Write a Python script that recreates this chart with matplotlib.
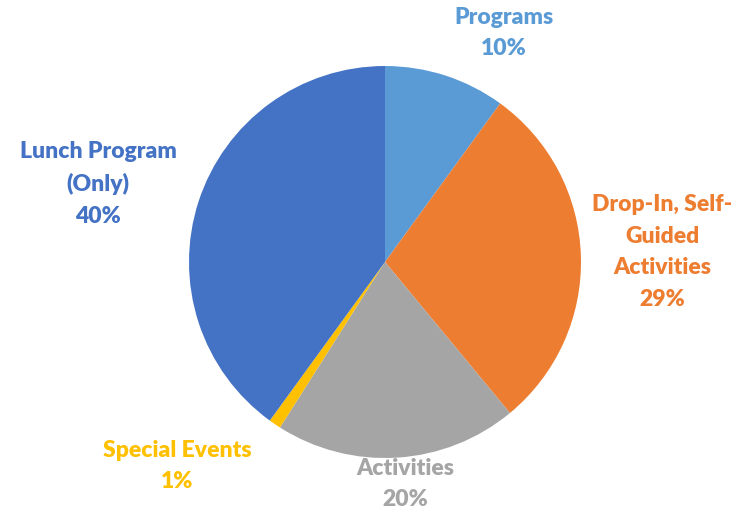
import matplotlib.pyplot as plt

# slices, clockwise from the top
labels = ["Programs", "Drop-In, Self-\nGuided\nActivities", "Activities",
          "Special Events", "Lunch Program\n(Only)"]
values = [10, 29, 20, 1, 40]
colors = ["#5B9BD5", "#ED7D31", "#A5A5A5", "#FFC000", "#4472C4"]

# label block centres in pixels (x, y from top)
label_pos = [(504, 33), (662, 252), (405, 484), (177, 466), (98, 184)]

W, H = 749, 510
fig = plt.figure(figsize=(W / 100, H / 100), dpi=100)

cx, cy, r = 385, 263, 196
ax = fig.add_axes([(cx - r) / W, (H - cy - r) / H, 2 * r / W, 2 * r / H])
ax.pie(values, colors=colors, startangle=90, counterclock=False,
       wedgeprops=dict(linewidth=0))
ax.set_xlim(-1, 1)
ax.set_ylim(-1, 1)
ax.set_aspect("equal")
ax.axis("off")

for lab, v, c, (x, y) in zip(labels, values, colors, label_pos):
    fig.text(x / W, 1 - y / H, "%s\n%d%%" % (lab, v), color=c,
             ha="center", va="center", fontsize=16.5, fontweight="heavy",
             family=["Lato", "DejaVu Sans"], linespacing=1.62)

fig.savefig("out.png", dpi=100)
